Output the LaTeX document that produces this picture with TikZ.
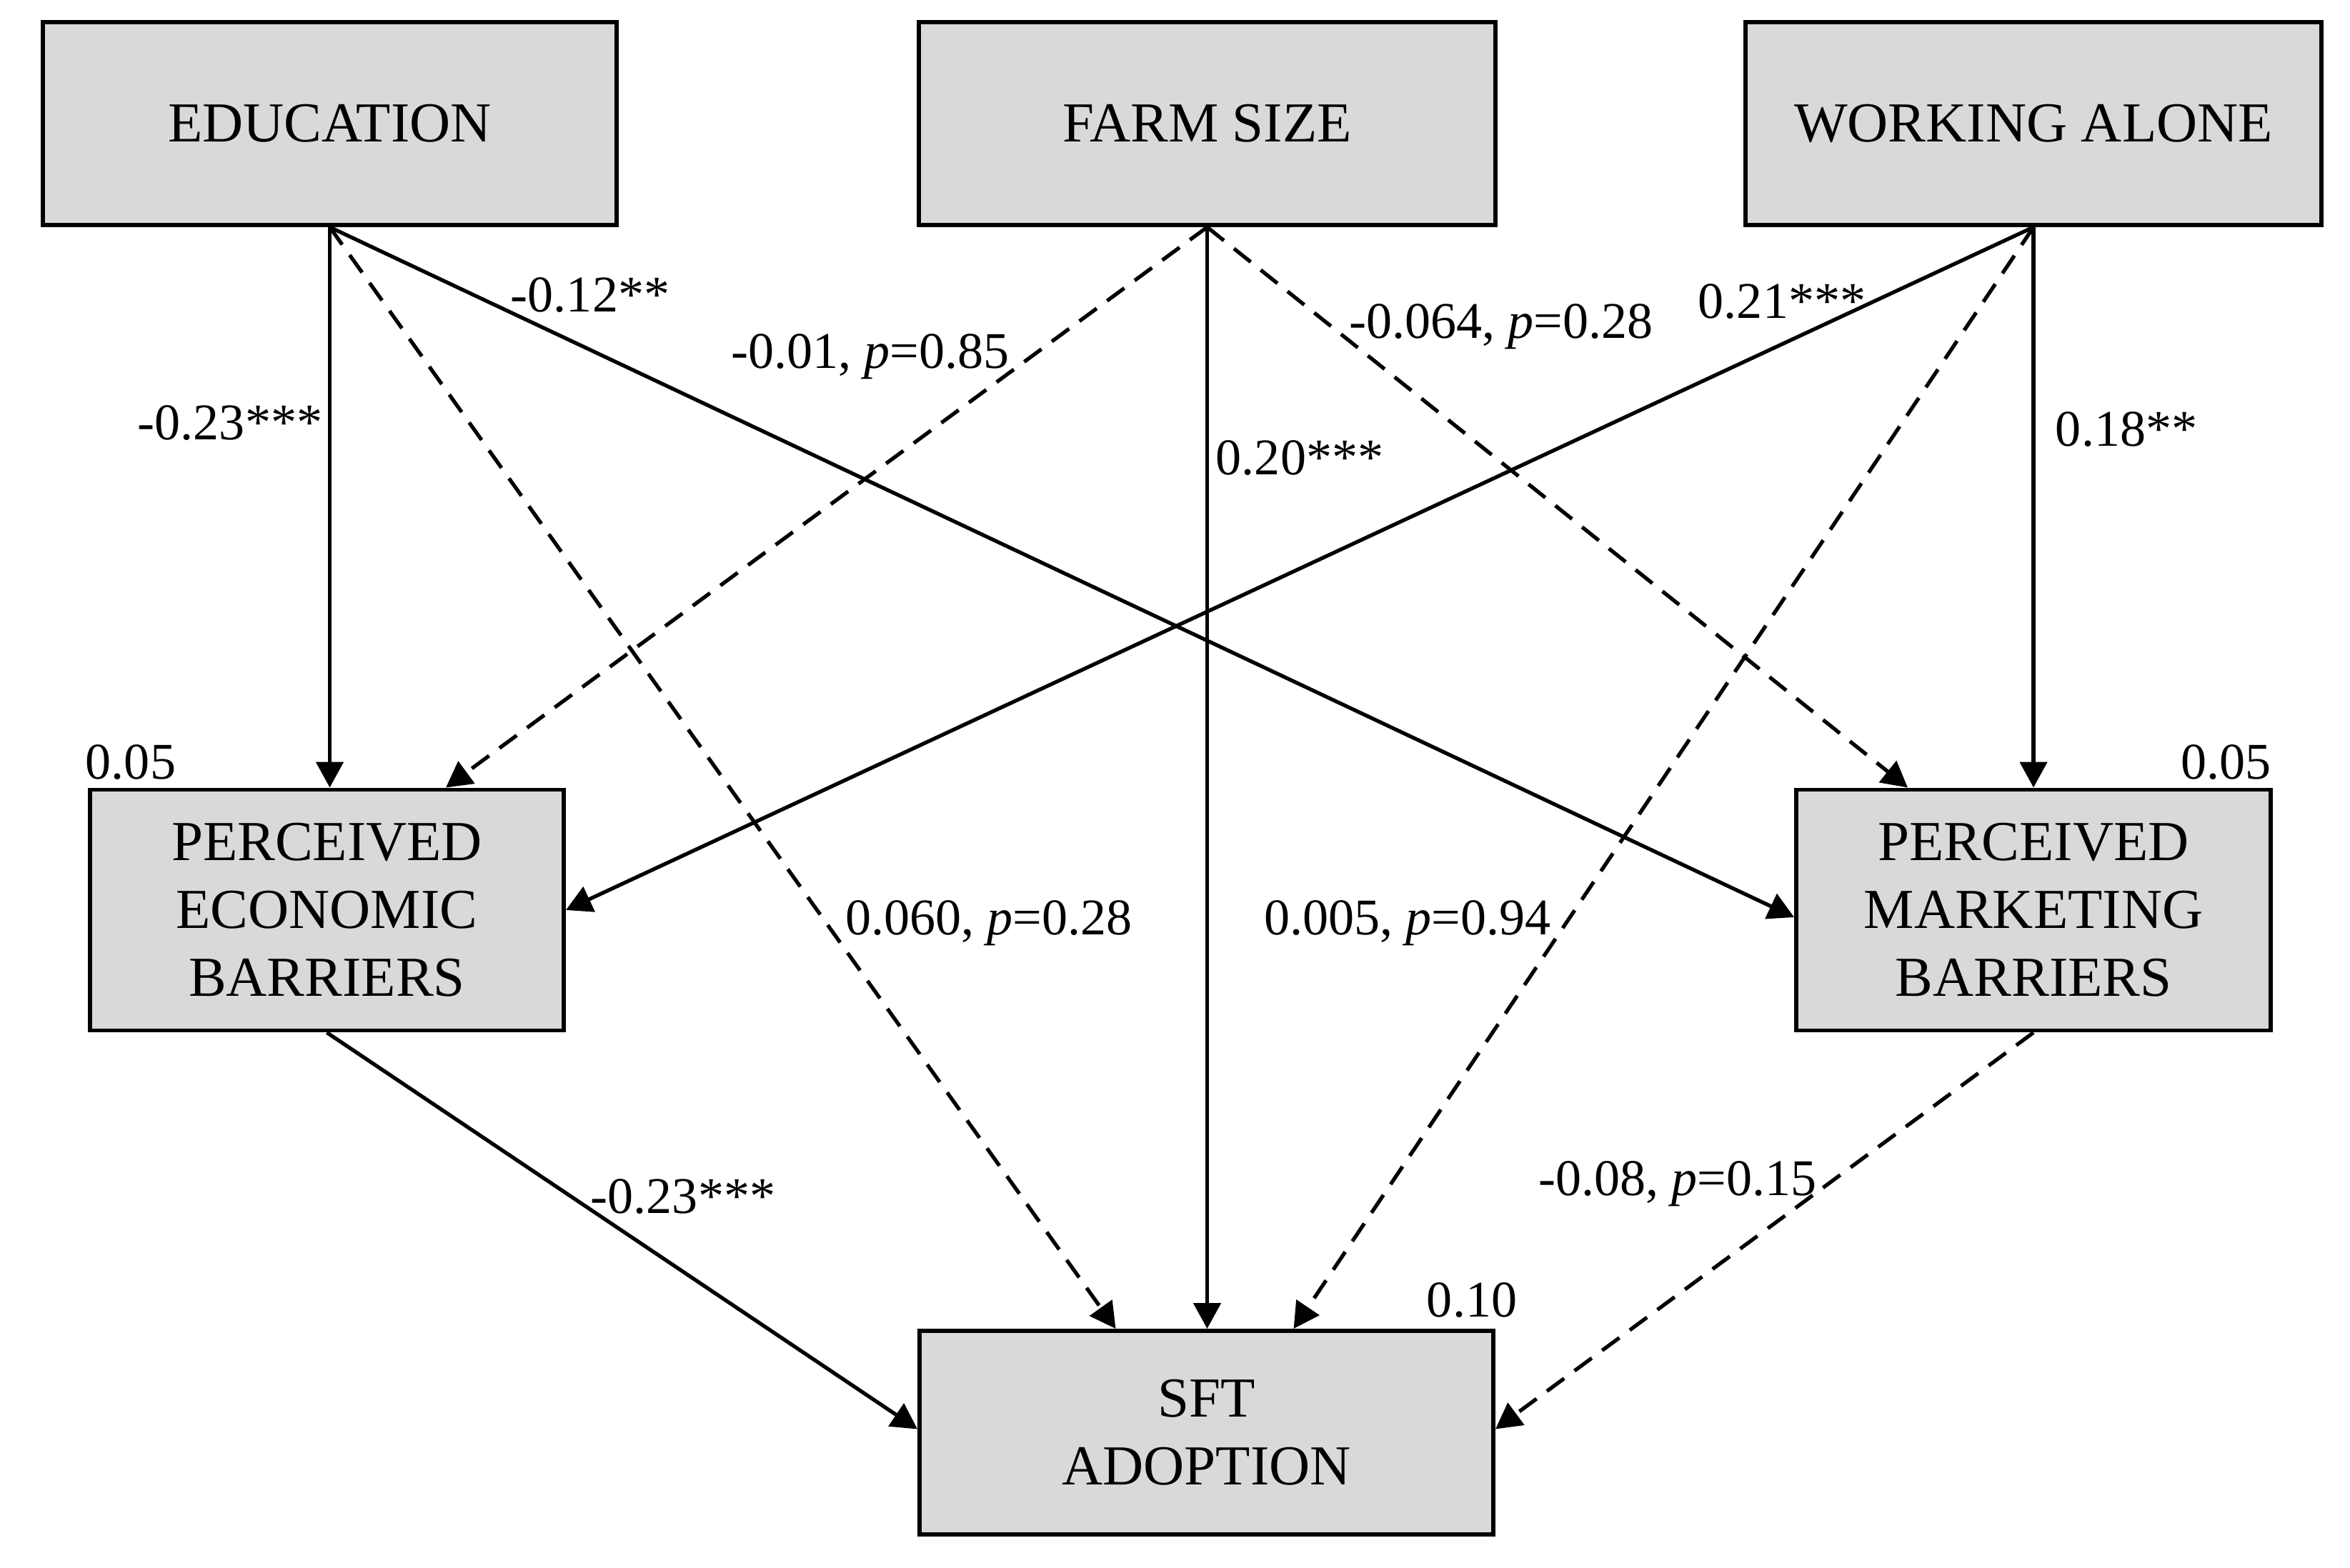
\documentclass[tikz,border=0pt]{standalone}
\usepackage{fontspec}
\setmainfont{Liberation Serif}
\usetikzlibrary{arrows.meta}
\definecolor{boxgray}{HTML}{D9D9D9}

\begin{document}
\begin{tikzpicture}[
    var/.style = {draw, line width = 1.7pt, fill = boxgray, align = center, inner sep = 0,
                  font = \fontsize{22.5}{27}\selectfont},
    coef/.style = {inner sep = 0, anchor = base, font = \fontsize{20.5}{24}\selectfont},
    eff/.style = {-{Triangle[length = 3.6mm, width = 3.8mm]}, line width = 1.5pt},
    ns/.style = {eff, dash pattern = on 3mm off 1.8mm}
  ]
    \useasboundingbox (0, 0) rectangle (32.89, 21.94);

    % variables
    \node [var, minimum width = 8.03cm, minimum height = 2.84cm] (edu) at (4.615, 20.21) {EDUCATION};
    \node [var, minimum width = 8.07cm, minimum height = 2.84cm] (farm) at (16.895, 20.21) {FARM SIZE};
    \node [var, minimum width = 8.06cm, minimum height = 2.84cm] (alone) at (28.46, 20.21) {WORKING ALONE};
    \node [var, minimum width = 6.63cm, minimum height = 3.37cm] (econ) at (4.575, 9.2) {PERCEIVED\\ECONOMIC\\BARRIERS};
    \node [var, minimum width = 6.64cm, minimum height = 3.37cm] (mark) at (28.46, 9.2) {PERCEIVED\\MARKETING\\BARRIERS};
    \node [var, minimum width = 8.03cm, minimum height = 2.85cm] (sft) at (16.885, 1.885) {SFT\\ADOPTION};

    % paths
    \draw [eff] (edu.south) -- (edu.south |- econ.north);
    \draw [ns] (edu.south) -- ([xshift = -1.27cm]sft.north);
    \draw [eff] (edu.south) -- ([yshift = -0.1cm]mark.west);
    \draw [ns] (farm.south) -- ([xshift = 1.665cm]econ.north);
    \draw [eff] (farm.south) -- (farm.south |- sft.north);
    \draw [ns] (farm.south) -- ([xshift = -1.76cm]mark.north);
    \draw [eff] (alone.south) -- (econ.east);
    \draw [ns] (alone.south) -- ([xshift = 1.22cm]sft.north);
    \draw [eff] (alone.south) -- (alone.south |- mark.north);
    \draw [eff] (econ.south) -- ([yshift = 0.05cm]sft.west);
    \draw [ns] (mark.south) -- ([yshift = 0.05cm]sft.east);

    % coefficients
    \node [coef] (c1) at (3.22, 15.78) {-0.23***};
    \node [coef] (c2) at (8.26, 17.57) {-0.12**};
    \node [coef] (c3) at (12.18, 16.78) {-0.01, \textit{p}=0.85};
    \node [coef] (c4) at (18.19, 15.29) {0.20***};
    \node [coef] (c5) at (21.01, 17.20) {-0.064, \textit{p}=0.28};
    \node [coef] (c6) at (24.94, 17.48) {0.21***};
    \node [coef] (c7) at (29.76, 15.69) {0.18**};
    \node [coef] (c8) at (13.84, 8.85) {0.060, \textit{p}=0.28};
    \node [coef] (c9) at (19.70, 8.85) {0.005, \textit{p}=0.94};
    \node [coef] (c10) at (9.56, 4.95) {-0.23***};
    \node [coef] (c11) at (23.48, 5.20) {-0.08, \textit{p}=0.15};

    % explained variance
    \node [coef] (r1) at (1.83, 11.03) {0.05};
    \node [coef] (r2) at (31.15, 11.03) {0.05};
    \node [coef] (r3) at (20.60, 3.51) {0.10};
  \end{tikzpicture}
\end{document}
